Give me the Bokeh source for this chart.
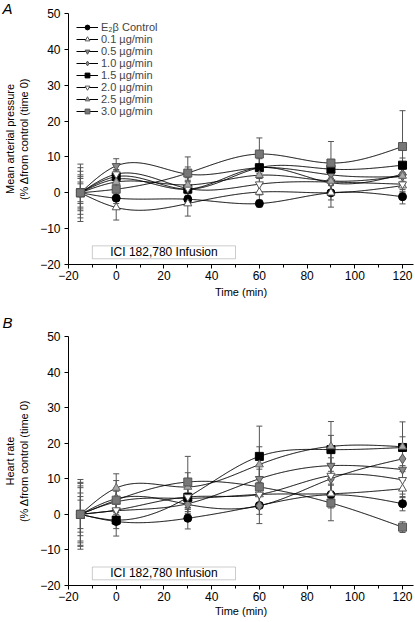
import numpy as np
from bokeh.plotting import figure
from bokeh.layouts import column
from bokeh.models import (Range1d, FixedTicker, Whisker, TeeHead, ColumnDataSource,
                          Legend, LegendItem, BoxAnnotation, Label, Title)
from bokeh.embed import file_html
from bokeh.resources import INLINE

# ---------------- data ----------------
time = [-15, 0, 30, 60, 90, 120]
series_labels = ["E\u2082\u03b2 Control", "0.1 \u00b5g/min", "0.5 \u00b5g/min", "1.0 \u00b5g/min",
                 "1.5 \u00b5g/min", "2.0 \u00b5g/min", "2.5 \u00b5g/min", "3.0 \u00b5g/min"]

# Panel A: mean arterial pressure (% change from control)
map_control = [0, -1.5, -1.8, -3.0, 0.0, -1.1]
map_01 = [0, -4.1, -3.0, 0.2, 0.0, 2.0]
map_05 = [0, 7.5, 5.2, 7.0, 5.0, 4.5]
map_10 = [0, 3.8, 1.0, 7.0, 2.8, 5.2]
map_15 = [0, 4.5, 1.0, 7.0, 6.6, 7.7]
map_20 = [0, 5.2, 1.2, 2.4, 3.0, 2.4]
map_25 = [0, 3.0, 2.2, 4.9, 3.3, 4.7]
map_30 = [0, 1.0, 5.5, 10.8, 8.3, 12.9]

map_sem_control = [4.0, 1.5, 1.5, 1.0, 2.0, 2.0]
map_sem_01 = [8.0, 3.5, 3.5, 2.5, 4.0, 2.0]
map_sem_05 = [5.0, 2.0, 2.0, 3.0, 2.0, 2.0]
map_sem_10 = [3.0, 2.5, 2.5, 3.0, 3.0, 2.0]
map_sem_15 = [2.5, 2.0, 2.0, 2.5, 2.5, 2.0]
map_sem_20 = [6.0, 2.5, 3.0, 3.0, 3.0, 2.0]
map_sem_25 = [7.0, 3.0, 3.0, 2.5, 3.0, 2.0]
map_sem_30 = [4.5, 3.0, 4.5, 4.5, 6.0, 10.0]

# Panel B: heart rate (% change from control)
hr_control = [0, -2.0, -1.1, 2.5, 5.5, 3.0]
hr_01 = [0, 3.5, 4.5, 5.6, 5.8, 7.2]
hr_05 = [0, 1.0, 3.0, 10.0, 13.7, 12.6]
hr_10 = [0, 4.4, 2.8, 2.4, 10.0, 15.6]
hr_15 = [0, -1.6, 4.8, 16.3, 18.2, 18.8]
hr_20 = [0, 1.2, 4.9, 5.6, 10.9, 9.7]
hr_25 = [0, 7.4, 7.7, 14.0, 19.1, 19.0]
hr_30 = [0, 4.0, 9.1, 7.7, 3.2, -3.6]

hr_sem_control = [4.0, 2.0, 3.0, 2.5, 3.0, 2.0]
hr_sem_01 = [6.0, 3.0, 3.0, 3.0, 4.0, 2.5]
hr_sem_05 = [7.5, 3.0, 3.0, 4.0, 4.0, 3.0]
hr_sem_10 = [5.0, 3.0, 2.5, 5.0, 3.5, 3.0]
hr_sem_15 = [9.0, 4.5, 4.0, 8.5, 4.0, 3.0]
hr_sem_20 = [8.0, 3.0, 3.5, 3.0, 5.0, 4.0]
hr_sem_25 = [9.8, 4.0, 4.0, 5.0, 7.0, 7.0]
hr_sem_30 = [8.7, 5.5, 7.2, 5.0, 5.0, 1.5]

map_values = [map_control, map_01, map_05, map_10, map_15, map_20, map_25, map_30]
map_sems = [map_sem_control, map_sem_01, map_sem_05, map_sem_10, map_sem_15, map_sem_20, map_sem_25, map_sem_30]
hr_values = [hr_control, hr_01, hr_05, hr_10, hr_15, hr_20, hr_25, hr_30]
hr_sems = [hr_sem_control, hr_sem_01, hr_sem_05, hr_sem_10, hr_sem_15, hr_sem_20, hr_sem_25, hr_sem_30]

x_ticks = [-20, 0, 20, 40, 60, 80, 100, 120]
x_minor = [-10, 10, 30, 50, 70, 90, 110]
y_ticks = [-20, -10, 0, 10, 20, 30, 40, 50]

# ---------------- styles ----------------
styles = [
    dict(marker="circle", size=8, fill="black", line="black"),
    dict(marker="triangle", size=8, fill="white", line="#555555"),
    dict(marker="inverted_triangle", size=8, fill="#8a8a8a", line="#555555"),
    dict(marker="diamond", size=10, fill="#8a8a8a", line="#555555"),
    dict(marker="square", size=8, fill="black", line="black"),
    dict(marker="inverted_triangle", size=8, fill="white", line="#555555"),
    dict(marker="triangle", size=8, fill="#a8a8a8", line="#666666"),
    dict(marker="square", size=8, fill="#777777", line="#555555"),
]

FONT = "Liberation Sans"
ERR = "#555555"


def natural_spline(xs, ys, n=400):
    x = np.asarray(xs, float)
    y = np.asarray(ys, float)
    m = len(x)
    h = np.diff(x)
    A = np.zeros((m, m))
    r = np.zeros(m)
    A[0, 0] = 1.0
    A[-1, -1] = 1.0
    for i in range(1, m - 1):
        A[i, i - 1] = h[i - 1]
        A[i, i] = 2 * (h[i - 1] + h[i])
        A[i, i + 1] = h[i]
        r[i] = 6 * ((y[i + 1] - y[i]) / h[i] - (y[i] - y[i - 1]) / h[i - 1])
    M = np.linalg.solve(A, r)
    xx = np.linspace(x[0], x[-1], n)
    idx = np.clip(np.searchsorted(x, xx) - 1, 0, m - 2)
    x0, x1 = x[idx], x[idx + 1]
    hh = x1 - x0
    yy = (M[idx] * (x1 - xx) ** 3 / (6 * hh) + M[idx + 1] * (xx - x0) ** 3 / (6 * hh)
          + (y[idx] / hh - M[idx] * hh / 6) * (x1 - xx)
          + (y[idx + 1] / hh - M[idx + 1] * hh / 6) * (xx - x0))
    return xx, yy


def make_panel(values, sems, ylabel, letter, height, border_top, border_bottom,
               with_legend, title_standoff, xlab_standoff):
    p = figure(width=415, height=height, output_backend="svg", toolbar_location=None,
               x_range=Range1d(-20, 124.6), y_range=Range1d(-20, 50),
               min_border_left=67, min_border_right=2, min_border_top=border_top,
               min_border_bottom=border_bottom)
    p.outline_line_color = None
    p.xgrid.grid_line_color = None
    p.ygrid.grid_line_color = None
    p.background_fill_color = "white"

    for ax in (p.xaxis[0], p.yaxis[0]):
        ax.axis_line_color = "black"
        ax.major_tick_line_color = "black"
        ax.minor_tick_line_color = "black"
        ax.major_tick_in = 0
        ax.major_tick_out = 4
        ax.minor_tick_in = 0
        ax.minor_tick_out = 3
        ax.major_label_text_font = FONT
        ax.major_label_text_font_size = "12px"
        ax.major_label_text_color = "black"
        ax.axis_label_text_font = FONT
        ax.axis_label_text_font_size = "11px"
        ax.axis_label_text_font_style = "normal"
        ax.axis_label_text_color = "black"
    p.xaxis.ticker = FixedTicker(ticks=x_ticks, minor_ticks=x_minor)
    p.yaxis.ticker = FixedTicker(ticks=y_ticks, minor_ticks=[])
    p.xaxis.major_label_standoff = 2
    p.xaxis.axis_label_standoff = xlab_standoff
    p.yaxis.major_label_standoff = 4
    p.yaxis.axis_label_standoff = 7
    p.xaxis.axis_label = "Time (min)"
    p.yaxis.axis_label = ylabel

    # panel letter as a title hanging just above the frame
    p.add_layout(Title(text=letter, align="left", vertical_align="bottom", offset=-66,
                       standoff=title_standoff, text_font=FONT, text_font_style="italic",
                       text_font_size="15px", text_color="black"), "above")

    # infusion box
    p.add_layout(BoxAnnotation(left=-10, right=50, bottom=-18.4, top=-14.8,
                               fill_color="white", fill_alpha=1, line_color="#555555",
                               line_width=1))
    p.add_layout(Label(x=20, y=-16.6, text="ICI 182,780 Infusion", text_align="center",
                       text_baseline="middle", text_font=FONT, text_font_size="12px",
                       text_color="black"))

    # error bars
    for v, e in zip(values, sems):
        v = np.asarray(v, float)
        e = np.asarray(e, float)
        src = ColumnDataSource(dict(base=time, upper=v + e, lower=v - e))
        p.add_layout(Whisker(base="base", upper="upper", lower="lower", source=src,
                             line_color=ERR, line_width=1,
                             upper_head=TeeHead(size=6, line_color=ERR, line_width=1),
                             lower_head=TeeHead(size=6, line_color=ERR, line_width=1)))

    items = []
    for v, st, lab in zip(values, styles, series_labels):
        xx, yy = natural_spline(time, v)
        lr = p.line(xx, yy, line_color="black", line_width=1)
        sr = p.scatter(time, v, marker=st["marker"], size=st["size"], fill_color=st["fill"],
                       line_color=st["line"], line_width=1)
        items.append(LegendItem(label=lab, renderers=[lr, sr]))

    if with_legend:
        leg = Legend(items=items, location="top_left", border_line_color=None,
                     background_fill_alpha=0, label_text_font=FONT, label_text_font_size="11px",
                     glyph_width=22, glyph_height=12, label_height=12, spacing=0, padding=0,
                     margin=8, label_standoff=3)
        p.add_layout(leg)
    return p


p1 = make_panel(map_values, map_sems, "Mean arterial pressure\n(% \u0394from control (time 0)",
                "A", 305, 13, 41, True, -6.5, 3)
p2 = make_panel(hr_values, hr_sems, "Heart rate\n(% \u0394from control (time 0)",
                "B", 314, 31, 33, False, 11, 1)

layout = column(p1, p2, spacing=0)
open("out.html", "w").write(file_html(layout, INLINE))
